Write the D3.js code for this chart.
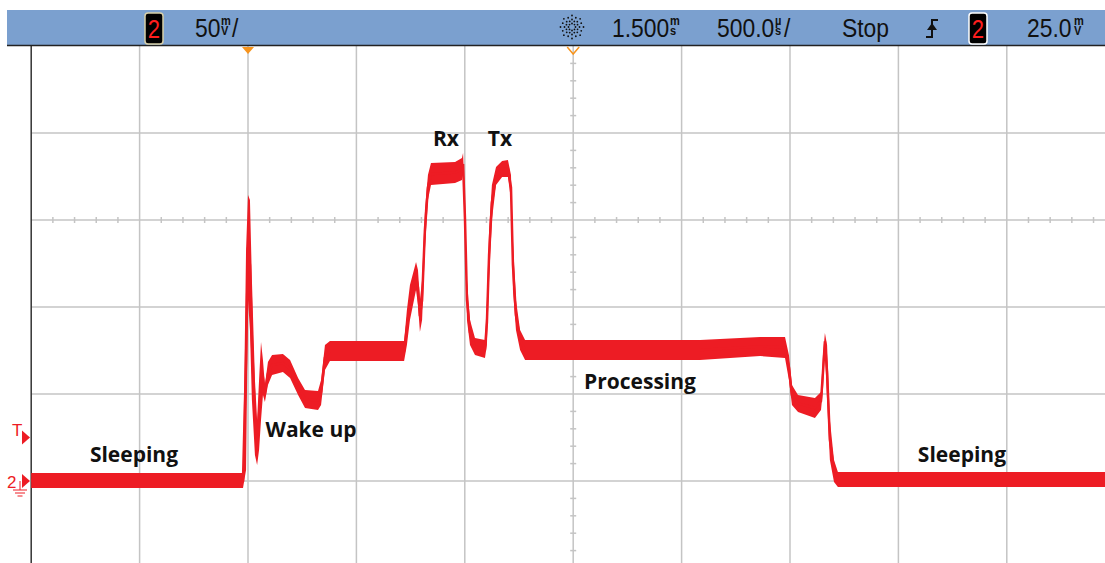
<!DOCTYPE html>
<html><head><meta charset="utf-8">
<script src="https://cdn.jsdelivr.net/npm/d3@7"></script>
<style>body{margin:0;background:#fff;overflow:hidden} svg{display:block}</style>
</head><body>
<svg id="c" width="1105" height="563"></svg>
<script>
// ---- data (time in ms relative to trigger, voltage in mV) ----
const timeMs = [-1.0,-0.023,-0.009,0.0,0.009,0.018,0.032,0.042,0.051,0.060,0.069,0.078,0.092,0.111,0.161,0.194,0.231,0.263,0.323,0.337,0.355,0.378,0.720,0.733,0.747,0.775,0.784,0.793,0.803,0.816,0.830,0.844,0.955,0.987,0.992,1.001,1.010,1.024,1.047,1.093,1.102,1.112,1.125,1.144,1.172,1.199,1.213,1.222,1.236,1.255,1.278,2.085,2.362,2.477,2.495,2.509,2.537,2.615,2.643,2.652,2.661,2.671,2.684,2.703,2.721,3.96];
const hiMv   = [4.6,4.6,132.8,164.4,161.5,115.5,58.0,35.1,58.0,79.9,69.5,55.2,68.4,72.4,73.0,69.5,59.2,52.3,51.7,58.0,78.2,80.5,80.5,98.3,112.6,125.9,121.3,104.0,115.5,155.7,175.9,182.8,183.3,185.6,188.5,161.5,115.5,92.5,82.2,81.0,104.0,144.3,170.1,180.5,183.9,184.5,175.9,138.5,104.0,86.8,81.0,81.0,82.8,82.8,72.4,55.2,49.4,47.7,51.1,72.4,85.1,78.2,35.1,12.1,5.2,5.2];
const loMv   = [-4.0,-4.0,6.3,104.0,86.8,46.6,14.9,9.2,17.8,35.1,49.4,45.4,55.2,60.9,62.6,59.2,49.4,42.0,40.8,43.7,63.8,69.0,69.0,78.2,92.5,109.8,101.1,85.6,92.5,132.8,161.5,170.1,171.3,173.0,175.9,138.5,92.5,78.2,72.4,70.7,78.2,115.5,150.0,170.1,174.7,174.7,161.5,109.8,86.8,75.3,69.5,69.5,71.8,70.7,58.0,43.7,39.7,36.2,40.8,52.3,75.3,46.6,12.1,-0.6,-3.4,-3.4];

const labelText = ["Sleeping","Wake up","Rx","Tx","Processing","Sleeping"];
const labelTime = [-0.526,0.291,0.913,1.162,1.808,3.293];
const labelMv   = [10.9,25.3,192.5,192.5,52.9,10.9];

const xDivsMs = [-1.0,-0.5,0,0.5,1.0,1.5,2.0,2.5,3.0,3.5,4.0];
const yDivsMv = [0,50,100,150,200];
const triggerMs = 0, delayMs = 1.5, trigLevelMv = 25;

// ---- scales ----
const svg = d3.select("#c");
const x = d3.scaleLinear().domain([-1, 4]).range([31.2, 1115.2]);
const y = d3.scaleLinear().domain([-150, 250]).range([742, 46]);
const RED = "#ed1c24", GRID = "#c4c4c4";

// grid
const g = svg.append("g");
g.selectAll("line.v").data(xDivsMs.slice(1)).join("line")
  .attr("x1", d => x(d)).attr("x2", d => x(d)).attr("y1", 46).attr("y2", 563)
  .attr("stroke", GRID).attr("stroke-width", 1.5);
g.selectAll("line.h").data(yDivsMv).join("line")
  .attr("x1", 31).attr("x2", 1105).attr("y1", d => y(d)).attr("y2", d => y(d))
  .attr("stroke", GRID).attr("stroke-width", 1.5);
const hTicks = d3.range(-1, 4.0001, 0.1).filter(v => Math.abs(v*2 - Math.round(v*2)) > 1e-6);
g.selectAll("line.ht").data(hTicks).join("line")
  .attr("x1", d => x(d)).attr("x2", d => x(d)).attr("y1", y(150)-3).attr("y2", y(150)+3)
  .attr("stroke", GRID).attr("stroke-width", 1.5);
const vTicks = d3.range(-150, 250.001, 10).filter(v => v % 50 !== 0);
g.selectAll("line.vt").data(vTicks).join("line")
  .attr("x1", x(delayMs)-3).attr("x2", x(delayMs)+3).attr("y1", d => y(d)).attr("y2", d => y(d))
  .attr("stroke", GRID).attr("stroke-width", 1.5);
g.append("line").attr("x1", x(-1)).attr("x2", x(-1)).attr("y1", 46).attr("y2", 563)
  .attr("stroke", "#333").attr("stroke-width", 1.5);

// trace
const pts = timeMs.map((t, i) => ({t, hi: hiMv[i], lo: loMv[i]}));
svg.append("path").datum(pts)
  .attr("d", d3.area().x(d => x(d.t)).y0(d => y(d.lo)).y1(d => y(d.hi)))
  .attr("fill", RED);
svg.append("path").datum(pts)
  .attr("d", d3.line().x(d => x(d.t)).y(d => (y(d.lo)+y(d.hi))/2))
  .attr("fill", "none").attr("stroke", RED).attr("stroke-width", 2.5);

// labels
svg.selectAll("text.lab").data(labelText).join("text")
  .attr("x", (d, i) => x(labelTime[i])).attr("y", (d, i) => y(labelMv[i]))
  .attr("text-anchor", "middle")
  .attr("font-family", "'Open Sans', sans-serif").attr("font-weight", 700)
  .attr("font-size", 21).attr("fill", "#111").text(d => d);

// header bar
const HF = "'Liberation Sans', Arial, sans-serif";
svg.append("rect").attr("x", 7).attr("y", 10).attr("width", 1098).attr("height", 35).attr("fill", "#7ba0cf");
svg.append("line").attr("x1", 7).attr("x2", 1105).attr("y1", 45.5).attr("y2", 45.5).attr("stroke", "#222").attr("stroke-width", 1.5);

function chanBox(cx, border) {
  svg.append("rect").attr("x", cx - 9).attr("y", 13).attr("width", 18).attr("height", 31).attr("rx", 3)
    .attr("fill", "#000").attr("stroke", border).attr("stroke-width", 1.5);
  svg.append("text").attr("transform", `translate(${cx},38) scale(0.85,1)`).attr("text-anchor", "middle")
    .attr("font-family", HF).attr("font-size", 26).attr("fill", "#ff1e1e").text("2");
}
function hText(xp, s) {
  return svg.append("text").attr("transform", `translate(${xp},37) scale(0.88,1)`).attr("font-family", HF)
    .attr("font-size", 26).attr("fill", "#111").text(s);
}
function stack(xp, top, bot) {
  const t = svg.append("text").attr("transform", `translate(${xp},25) scale(0.85,1)`).attr("font-family", HF)
    .attr("font-weight", 700).attr("font-size", 13).attr("fill", "#111");
  t.append("tspan").attr("x", 0).attr("y", 0).text(top);
  t.append("tspan").attr("x", 0).attr("y", 10).text(bot);
}
chanBox(154, "#d8cfa8");
hText(195, "50"); stack(221, "m", "V"); hText(232, "/");

// starburst
const sb = svg.append("g").attr("transform", "translate(572,27)");
for (let k = 0; k < 16; k++) {
  const a = k * Math.PI / 8, n = (k % 2 === 0) ? [3.5, 7.5, 11.5] : [6, 10];
  n.forEach(r => sb.append("circle").attr("cx", r*Math.cos(a)).attr("cy", r*Math.sin(a)).attr("r", 0.9).attr("fill", "#111"));
}
hText(612, "1.500"); stack(670, "m", "s");
hText(717, "500.0"); stack(775, "µ", "s"); hText(784, "/");
hText(842, "Stop");
svg.append("path").attr("d", "M926,37 H932 V20 H938").attr("fill", "none").attr("stroke", "#111").attr("stroke-width", 2);
svg.append("path").attr("d", "M927,30 L932,23 L937,30 Z").attr("fill", "#111");
chanBox(978, "#ffffff");
hText(1027, "25.0"); stack(1074, "m", "V");

// trigger / delay markers
const ORANGE = "#f7941d";
svg.append("path").attr("d", `M${x(triggerMs)-6},47 L${x(triggerMs)+6},47 L${x(triggerMs)},54 Z`).attr("fill", ORANGE);
svg.append("path").attr("d", `M${x(delayMs)-6},47 L${x(delayMs)},54 L${x(delayMs)+6},47`).attr("fill", "none").attr("stroke", ORANGE).attr("stroke-width", 1.5);

// left markers
const ty = y(trigLevelMv), gy = y(0);
svg.append("text").attr("x", 12).attr("y", ty - 2).attr("font-family", HF).attr("font-size", 17).attr("fill", RED).text("T");
svg.append("path").attr("d", `M22,${ty-7} L30,${ty} L22,${ty+7} Z`).attr("fill", RED);
svg.append("text").attr("x", 7).attr("y", gy + 7).attr("font-family", HF).attr("font-size", 17).attr("fill", RED).text("2");
svg.append("path").attr("d", `M22,${gy-7} L30,${gy} L22,${gy+7} Z`).attr("fill", RED);
svg.append("path").attr("d", `M20,${gy} V${gy+9} M13,${gy+9} H27 M15,${gy+12} H25 M17.5,${gy+15} H22.5`)
  .attr("fill", "none").attr("stroke", RED).attr("stroke-width", 1);
</script>
</body></html>
